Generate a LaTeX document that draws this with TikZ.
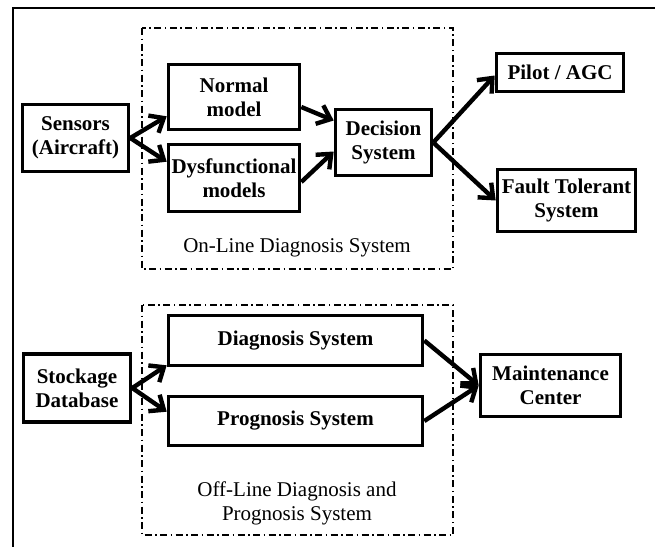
\documentclass[tikz,border=0pt]{standalone}
\usepackage{fontspec}
\setmainfont{Liberation Serif}
\usetikzlibrary{positioning, arrows.meta}
\tikzset{
  x=1pt, y=-1pt,
  every node/.style={font=\fontsize{21}{24}\selectfont},
  block/.style={draw, line width=3.6pt, align=center, inner sep=0pt,
    font=\fontsize{21}{24}\selectfont\bfseries},
  flow/.style={line width=4.4pt, -{Straight Barb[length=12pt, width=20pt, line width=4.4pt]}},
  groupbox/.style={line width=1.6pt, dash pattern=on 7pt off 3.5pt on 1.5pt off 3.5pt},
}

\begin{document}
\begin{tikzpicture}
  \useasboundingbox (0,0) rectangle (655,546);
  \clip (0,0) rectangle (655,546);
  \draw[line width=1.6pt] (13,8) rectangle (700,600);

  % on-line part
  \draw[groupbox] (142,28) rectangle (453,269);
  \node[block, minimum width=106pt, minimum height=67pt] (sensors) at (75.5,138) {Sensors\\(Aircraft)};
  \node[block, minimum width=131pt, minimum height=65pt] (normal) at (234,97) {Normal\\model};
  \node[block, minimum width=131pt, minimum height=67pt] (dysf) at (234,178) {Dysfunctional\\models};
  \node[block, minimum width=96pt, minimum height=66pt] (decision) at (383.5,142.5) {Decision\\System};
  \node[block, minimum width=127pt, minimum height=38pt] (pilot) at (560,72.5) {Pilot / AGC};
  \node[block, minimum width=138pt, minimum height=62pt] (fault) at (566.5,200.5) {Fault Tolerant\\System};
  \node (online) at (297,248) {On-Line Diagnosis System};

  % off-line part
  \draw[groupbox] (142,305) rectangle (453,535);
  \node[block, minimum width=107pt, minimum height=68pt] (stockage) at (77,388) {Stockage\\Database};
  \node[block, minimum width=254pt, minimum height=50pt] (diag) at (295.5,340.5) {Diagnosis System};
  \node[block, minimum width=254pt, minimum height=49pt] (prog) at (295.5,421) {Prognosis System};
  \node[block, minimum width=140pt, minimum height=62pt] (maint) at (550.5,385.5) {Maintenance\\Center};
  \node[align=center] (offline) at (297,503) {Off-Line Diagnosis and\\Prognosis System};

  % arrows
  \draw[flow] (sensors.east) -- ([yshift=15pt]normal.south west);
  \draw[flow] (sensors.east) -- ([yshift=-19pt]dysf.north west);
  \draw[flow] ([yshift=-10pt]normal.east) -- ([yshift=22pt]decision.west);
  \draw[flow] ([yshift=-4pt]dysf.east) -- ([yshift=-9pt]decision.west);
  \draw[flow] (decision.east) -- ([yshift=-3pt]pilot.west);
  \draw[flow] (decision.east) -- (fault.west);
  \draw[flow] (stockage.east) -- ([yshift=2pt]diag.south west);
  \draw[flow] (stockage.east) -- ([yshift=-17pt]prog.north west);
  \draw[flow] (diag.east) -- (maint.west);
  \draw[flow] (prog.east) -- (maint.west);
\end{tikzpicture}
\end{document}
